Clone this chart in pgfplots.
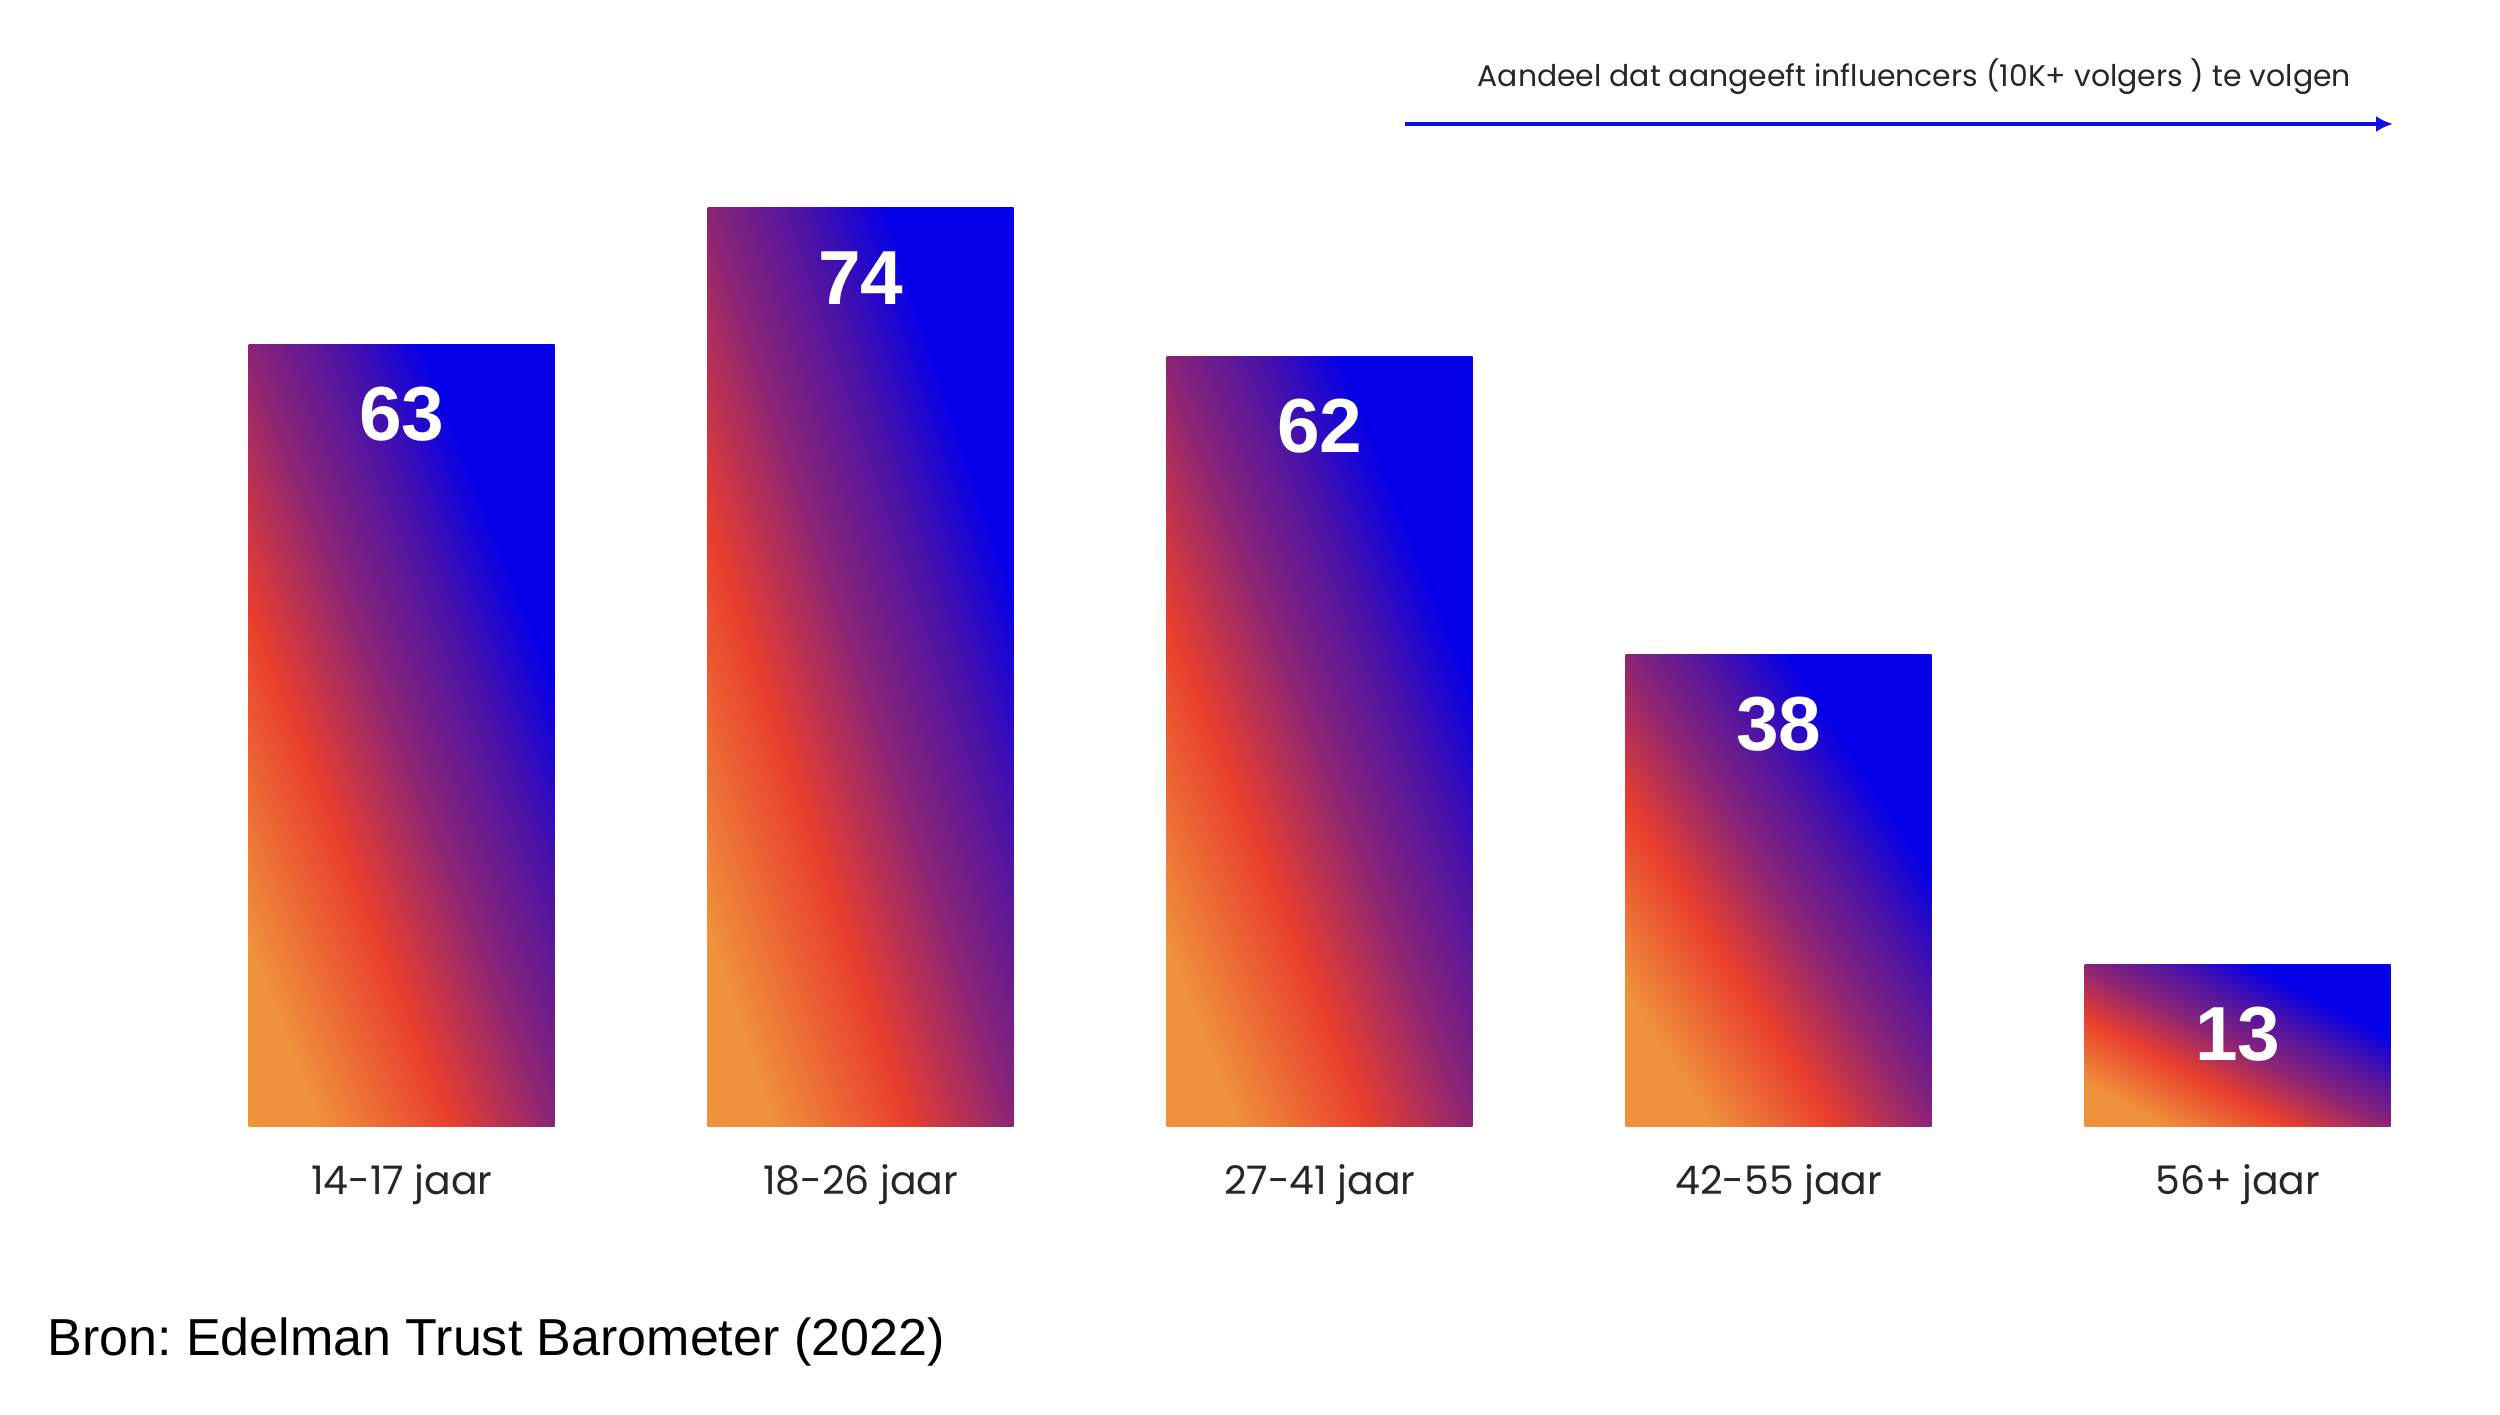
\documentclass[border=0pt]{standalone}
\usepackage{fontspec}
\setmainfont{Poppins}
\newfontfamily\numfont{Liberation Sans}
\newfontfamily\srcfont{Liberation Sans}
\usepackage{pgfplots}
\pgfplotsset{compat=1.18}
\usetikzlibrary{arrows.meta}
\frenchspacing
\definecolor{cO}{RGB}{240,146,60}
\definecolor{cR}{RGB}{233,62,45}
\definecolor{cP}{RGB}{138,36,118}
\definecolor{cV}{RGB}{74,18,168}
\definecolor{cB}{RGB}{5,0,232}
\definecolor{arrowblue}{RGB}{16,16,230}
\pgfdeclarehorizontalshading{bargrad}{100bp}{color(0bp)=(cO); color(25bp)=(cO); color(39bp)=(cR); color(50bp)=(cP); color(60bp)=(cV); color(68.5bp)=(cB); color(100bp)=(cB)}
\begin{document}
\begin{tikzpicture}
\useasboundingbox (0,0) rectangle (25cm,14.14cm);
\begin{axis}[
  at={(1.722cm,2.88cm)}, anchor=south west,
  scale only axis, width=22.95cm, height=9.928cm,
  xmin=-0.5, xmax=4.5, ymin=0, ymax=80,
  ybar, bar width=0.6667, bar shift=0pt,
  axis line style={draw=none}, tick style={draw=none},
  ytick=\empty, xtick={0,1,2,3,4},
  xticklabels={14-17 jaar,18-26 jaar,27-41 jaar,42-55 jaar,56+ jaar},
  xticklabel style={font=\fontsize{11.2}{13}\selectfont, text=black!85, anchor=base, yshift=-0.53cm},
  /pgf/number format/assume math mode=true,
  nodes near coords,
  every node near coord/.append style={anchor=center, yshift=-0.70cm, text=white, font=\numfont\bfseries\fontsize{21.8}{24}\selectfont},
  every axis plot/.append style={draw=none, shade, shading=bargrad},
  clip=false,
]
\addplot[shading angle=21.37] coordinates {(0,63)};
\addplot[shading angle=18.45] coordinates {(1,74)};
\addplot[shading angle=21.69] coordinates {(2,62)};
\addplot[shading angle=33.0] coordinates {(3,38)};
\addplot[shading angle=62.2] coordinates {(4,13)};
\end{axis}
\node[anchor=base west, inner sep=0pt, text=black!85, font=\fontsize{8.5}{10}\selectfont] at (14.77cm,13.27cm) {Aandeel dat aangeeft influencers (10K+ volgers ) te volgen};
\draw[arrowblue, line width=1.15pt, -{Latex[length=0.17cm,width=0.16cm]}] (14.05cm,12.90cm) -- (23.93cm,12.90cm);
\node[anchor=base west, inner sep=0pt, font=\srcfont\fontsize{14.8}{17}\selectfont] at (0.467cm,0.59cm) {Bron: Edelman Trust Barometer (2022)};
\end{tikzpicture}
\end{document}
